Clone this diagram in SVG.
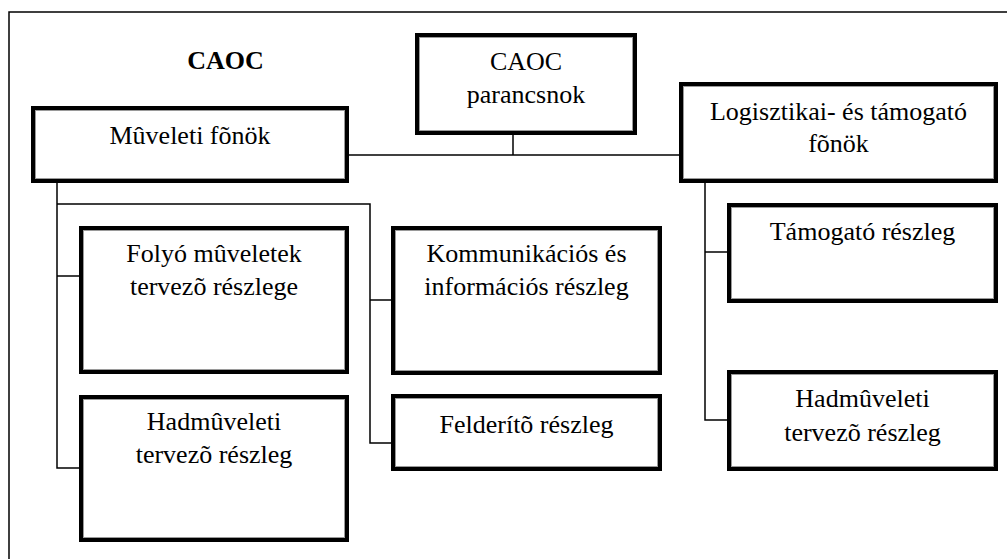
<svg xmlns="http://www.w3.org/2000/svg" width="1007" height="559" viewBox="0 0 1007 559">
<style>
.outer{fill:#fff;stroke:#000;stroke-width:4}
.inner{fill:none;stroke:#9a9a9a;stroke-width:1}
.c{fill:none;stroke:#000;stroke-width:1.5}
.t{font-family:'Liberation Serif','Times New Roman',serif;font-size:26px;fill:#000;text-anchor:middle}
.b{font-weight:bold}
</style>
<rect width="1007" height="559" fill="#fff"/>
<g id="frame">
<path class="c" d="M9,559 V12 H1007"/>
</g>
<g id="connectors">
<path class="c" d="M513,135 V155"/>
<path class="c" d="M349,155 H679"/>
<path class="c" d="M57,183 V468 H79"/>
<path class="c" d="M57,204 H370 V443 H391"/>
<path class="c" d="M57,276 H79"/>
<path class="c" d="M370,300 H391"/>
<path class="c" d="M705,183 V420 H727"/>
<path class="c" d="M705,252 H727"/>
</g>
<text id="title" class="t b" x="225.5" y="69" font-family="Liberation Serif, serif">CAOC</text>
<g id="caoc-parancsnok">
<rect class="outer" x="417" y="35" width="218" height="98"/>
<rect class="inner" x="419.5" y="37.5" width="213" height="93"/>
<text class="t" x="526" y="70" font-family="Liberation Serif, serif">CAOC</text>
<text class="t" x="526" y="103" font-family="Liberation Serif, serif">parancsnok</text>
</g>
<g id="muveleti-fonok">
<rect class="outer" x="33" y="108" width="314" height="73"/>
<rect class="inner" x="35.5" y="110.5" width="309" height="68"/>
<text class="t" x="190" y="144" font-family="Liberation Serif, serif">Mûveleti fõnök</text>
</g>
<g id="logisztikai-fonok">
<rect class="outer" x="681" y="84" width="315" height="97"/>
<rect class="inner" x="683.5" y="86.5" width="310" height="92"/>
<text class="t" x="838.5" y="120" font-family="Liberation Serif, serif">Logisztikai- és támogató</text>
<text class="t" x="838.5" y="152" font-family="Liberation Serif, serif">fõnök</text>
</g>
<g id="folyo-muveletek">
<rect class="outer" x="81" y="228" width="266" height="144"/>
<rect class="inner" x="83.5" y="230.5" width="261" height="139"/>
<text class="t" x="214" y="262" font-family="Liberation Serif, serif">Folyó mûveletek</text>
<text class="t" x="214" y="295" font-family="Liberation Serif, serif">tervezõ részlege</text>
</g>
<g id="hadmuveleti-bal">
<rect class="outer" x="81" y="397" width="266" height="143"/>
<rect class="inner" x="83.5" y="399.5" width="261" height="138"/>
<text class="t" x="214" y="430" font-family="Liberation Serif, serif">Hadmûveleti</text>
<text class="t" x="214" y="463" font-family="Liberation Serif, serif">tervezõ részleg</text>
</g>
<g id="kommunikacios">
<rect class="outer" x="393" y="228" width="267" height="145"/>
<rect class="inner" x="395.5" y="230.5" width="262" height="140"/>
<text class="t" x="526.5" y="262" font-family="Liberation Serif, serif">Kommunikációs és</text>
<text class="t" x="526.5" y="295" font-family="Liberation Serif, serif">információs részleg</text>
</g>
<g id="felderito">
<rect class="outer" x="393" y="396" width="267" height="73"/>
<rect class="inner" x="395.5" y="398.5" width="262" height="68"/>
<text class="t" x="526.5" y="433" font-family="Liberation Serif, serif">Felderítõ részleg</text>
</g>
<g id="tamogato">
<rect class="outer" x="729" y="205" width="267" height="96"/>
<rect class="inner" x="731.5" y="207.5" width="262" height="91"/>
<text class="t" x="862.5" y="240" font-family="Liberation Serif, serif">Támogató részleg</text>
</g>
<g id="hadmuveleti-jobb">
<rect class="outer" x="729" y="372" width="267" height="97"/>
<rect class="inner" x="731.5" y="374.5" width="262" height="92"/>
<text class="t" x="862.5" y="407" font-family="Liberation Serif, serif">Hadmûveleti</text>
<text class="t" x="862.5" y="441" font-family="Liberation Serif, serif">tervezõ részleg</text>
</g>
</svg>
